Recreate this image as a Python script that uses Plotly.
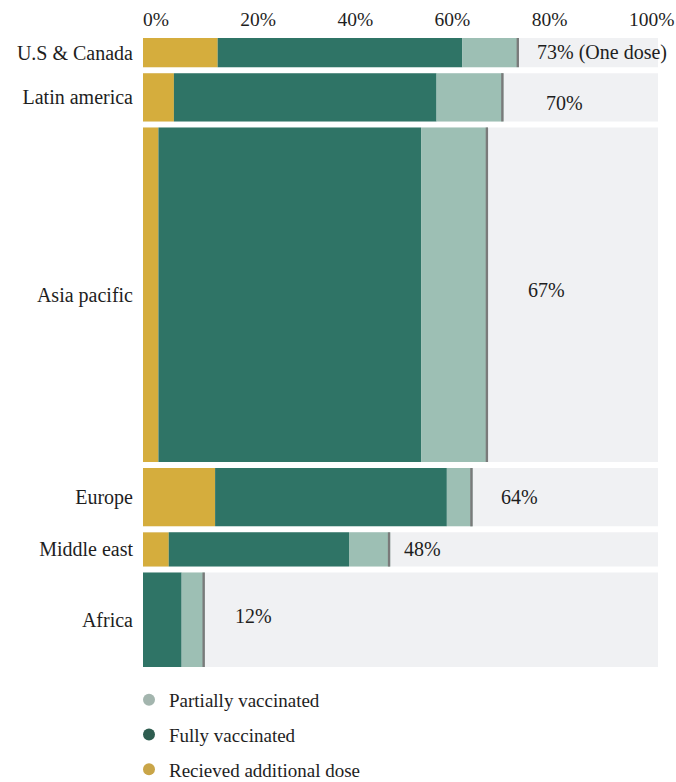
import plotly.graph_objects as go

# ---- data ----
regions = ["U.S & Canada", "Latin america", "Asia pacific", "Europe", "Middle east", "Africa"]
additional_dose = [14.5, 6.0, 3.0, 14.0, 5.0, 0.0]
fully_vaccinated = [47.5, 51.0, 51.0, 45.0, 35.0, 7.5]
partially_vaccinated = [11.0, 13.0, 13.0, 5.0, 8.0, 4.5]
total_labels = ["73% (One dose)", "70%", "67%", "64%", "48%", "12%"]
population_weight = [29, 48, 333, 58, 34, 94]   # relative bar thickness
tick_values = [0, 20, 40, 60, 80, 100]
tick_labels = ["0%", "20%", "40%", "60%", "80%", "100%"]

# ---- styles ----
label_dx = [16, 40, 38, 26, 12, 28]
label_dy = [0, -6, 5, 0, 0, 4]
GAP = 6
C_ADD = "#d5ad3d"
C_FULL = "#2f7466"
C_PART = "#9dbfb4"
C_BG = "#f0f1f3"
C_EDGE = "#7a7a7a"
FONT = "Liberation Serif"
TXT = "#1e1e1e"
FS = 20

centers = []
pos = 0
for h in population_weight:
    centers.append(pos + h / 2)
    pos += h + GAP
ymax = pos - GAP

base_full = list(additional_dose)
base_part = [a + f for a, f in zip(additional_dose, fully_vaccinated)]
totals = [a + f + p for a, f, p in zip(additional_dose, fully_vaccinated, partially_vaccinated)]

fig = go.Figure()
common = dict(orientation="h", y=centers, width=population_weight, showlegend=False,
              hoverinfo="skip", marker_line_width=0, opacity=1)
fig.add_trace(go.Bar(x=[100] * len(regions), base=[0] * len(regions), marker_color=C_BG, **common))
fig.add_trace(go.Bar(x=additional_dose, base=[0] * len(regions), marker_color=C_ADD, **common))
fig.add_trace(go.Bar(x=fully_vaccinated, base=base_full, marker_color=C_FULL, **common))
fig.add_trace(go.Bar(x=partially_vaccinated, base=base_part, marker_color=C_PART, **common))
fig.add_trace(go.Bar(x=[0.45] * len(regions), base=[t - 0.45 for t in totals], marker_color=C_EDGE, **common))

# legend entries (circle markers)
for name, col in [("Partially vaccinated", "#a3b5ae"),
                  ("Fully vaccinated", "#2e5d50"),
                  ("Recieved additional dose", "#c9a548")]:
    fig.add_trace(go.Scatter(x=[None], y=[None], mode="markers", name=name,
                             marker=dict(color=col, size=8, symbol="circle"),
                             legendgroup=name, showlegend=True))

# invisible trace to activate the top tick axis
fig.add_trace(go.Scatter(x=[0, 100], y=[0, 0], xaxis="x2", yaxis="y", mode="markers",
                         marker=dict(opacity=0), showlegend=False, hoverinfo="skip"))

for i, (t, lab) in enumerate(zip(totals, total_labels)):
    fig.add_annotation(x=t, y=centers[i], text=lab, showarrow=False, xanchor="left",
                       xshift=label_dx[i], yshift=label_dy[i],
                       font=dict(family=FONT, size=FS, color=TXT))

W, H = 676, 782
left, right_px, top, bottom_px = 143, 658, 38, 667
fig.update_layout(
    width=W, height=H,
    margin=dict(l=left, r=W - right_px, t=top, b=H - bottom_px, pad=0, autoexpand=False),
    barmode="overlay",
    paper_bgcolor="white", plot_bgcolor="rgba(0,0,0,0)",
    font=dict(family=FONT, size=FS, color=TXT),
    xaxis=dict(range=[0, 100], visible=False, fixedrange=True),
    xaxis2=dict(range=[0, 100], domain=[0, (629 - 143) / (658 - 143)], anchor="free", position=1,
                side="top", tickvals=tick_values, ticktext=tick_labels, automargin=False,
                ticklabelposition="outside right", ticklabelstandoff=8, ticklabeloverflow="allow",
                showgrid=False, zeroline=False,
                showline=False, ticks="", tickfont=dict(family=FONT, size=19.5, color=TXT)),
    yaxis=dict(range=[ymax, 0], tickvals=centers, ticktext=regions, showgrid=False, automargin=False,
               zeroline=False, showline=False, ticks="outside", ticklen=5, tickcolor="rgba(0,0,0,0)",
               tickfont=dict(family=FONT, size=FS, color=TXT)),
    legend=dict(xref="container", yref="container", x=129 / W, y=1 - 681 / H,
                xanchor="left", yanchor="top",
                font=dict(family=FONT, size=19, color=TXT), traceorder="grouped",
                tracegroupgap=7, itemsizing="constant", bgcolor="rgba(0,0,0,0)"),
)

fig.write_html("out.html")
